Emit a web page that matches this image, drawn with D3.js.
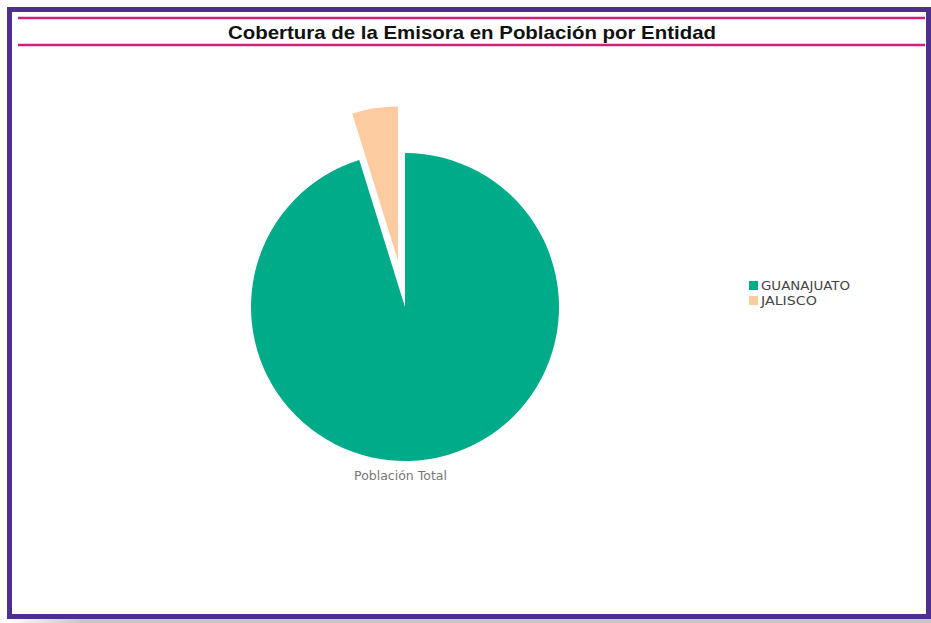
<!DOCTYPE html>
<html>
<head>
<meta charset="utf-8">
<script src="https://cdn.jsdelivr.net/npm/d3@7"></script>
<style>
  html, body { margin: 0; padding: 0; background: #fff; }
  svg { display: block; }
</style>
</head>
<body>
<svg id="chart"></svg>
<script>
// datos de la gráfica
const entidades = ["GUANAJUATO", "JALISCO"];
const porcentajes = [95.2, 4.8];
const colores = ["#00ab8a", "#fccb9f"];
const titulo = "Cobertura de la Emisora en Población por Entidad";
const etiquetaSerie = "Población Total";

const width = 931, height = 623;

const svg = d3.select("#chart")
    .attr("width", width)
    .attr("height", height)
    .style("font-family", "'Liberation Sans', Arial, sans-serif");

// sombra inferior
const grad = svg.append("defs").append("linearGradient")
    .attr("id", "sombra").attr("x1", 0).attr("x2", 1);
grad.append("stop").attr("offset", "0").attr("stop-color", "#fff");
grad.append("stop").attr("offset", "0.08").attr("stop-color", "#c8c8c8");
grad.append("stop").attr("offset", "1").attr("stop-color", "#c8c8c8");
svg.append("rect")
    .attr("x", 7).attr("y", 617).attr("width", 924).attr("height", 6)
    .attr("fill", "url(#sombra)");

// marco morado
svg.append("rect")
    .attr("x", 9.5).attr("y", 9.5)
    .attr("width", 919).attr("height", 607)
    .attr("fill", "#fff")
    .attr("stroke", "#4e2f8f")
    .attr("stroke-width", 5);

// líneas rosas del título
[18, 45].forEach(y => {
  svg.append("line")
      .attr("x1", 18).attr("x2", 925)
      .attr("y1", y).attr("y2", y)
      .attr("stroke", "#d41f78")
      .attr("stroke-width", 2.5);
});

svg.append("text")
    .attr("x", 472)
    .attr("y", 39)
    .attr("text-anchor", "middle")
    .attr("font-size", "19px")
    .attr("font-weight", "bold")
    .attr("fill", "#111")
    .attr("textLength", 488)
    .attr("lengthAdjust", "spacingAndGlyphs")
    .text(titulo);

// pastel
const cx = 405, cy = 307, radio = 154, separacion = 47;

const datos = entidades.map((e, i) => ({ entidad: e, valor: porcentajes[i] }));

const pie = d3.pie()
    .sort(null)
    .value(d => d.valor);

const arco = d3.arc().innerRadius(0).outerRadius(radio);

const color = d3.scaleOrdinal().domain(entidades).range(colores);

const g = svg.append("g").attr("transform", `translate(${cx},${cy})`);

g.selectAll("path")
  .data(pie(datos))
  .join("path")
    .attr("d", arco)
    .attr("fill", d => color(d.data.entidad))
    .attr("transform", d => {
      if (d.data.entidad !== "JALISCO") return null;
      const a = (d.startAngle + d.endAngle) / 2;
      return `translate(${Math.sin(a) * separacion},${-Math.cos(a) * separacion})`;
    });

svg.append("text")
    .attr("x", 400.5)
    .attr("y", 480)
    .attr("text-anchor", "middle")
    .attr("font-family", "'DejaVu Sans', sans-serif")
    .attr("font-size", "12.5px")
    .attr("fill", "#777")
    .text(etiquetaSerie);

// leyenda
const leyenda = svg.append("g").attr("transform", "translate(749,281)");

const item = leyenda.selectAll("g")
  .data(entidades)
  .join("g")
    .attr("transform", (d, i) => `translate(0,${i * 15})`);

item.append("rect")
    .attr("width", 9).attr("height", 9)
    .attr("fill", d => color(d));

item.append("text")
    .attr("x", 12)
    .attr("y", 9)
    .attr("font-family", "'DejaVu Sans', sans-serif")
    .attr("font-size", "12.5px")
    .attr("fill", "#444")
    .attr("textLength", d => d === "GUANAJUATO" ? 89 : 56)
    .attr("lengthAdjust", "spacingAndGlyphs")
    .text(d => d);
</script>
</body>
</html>
